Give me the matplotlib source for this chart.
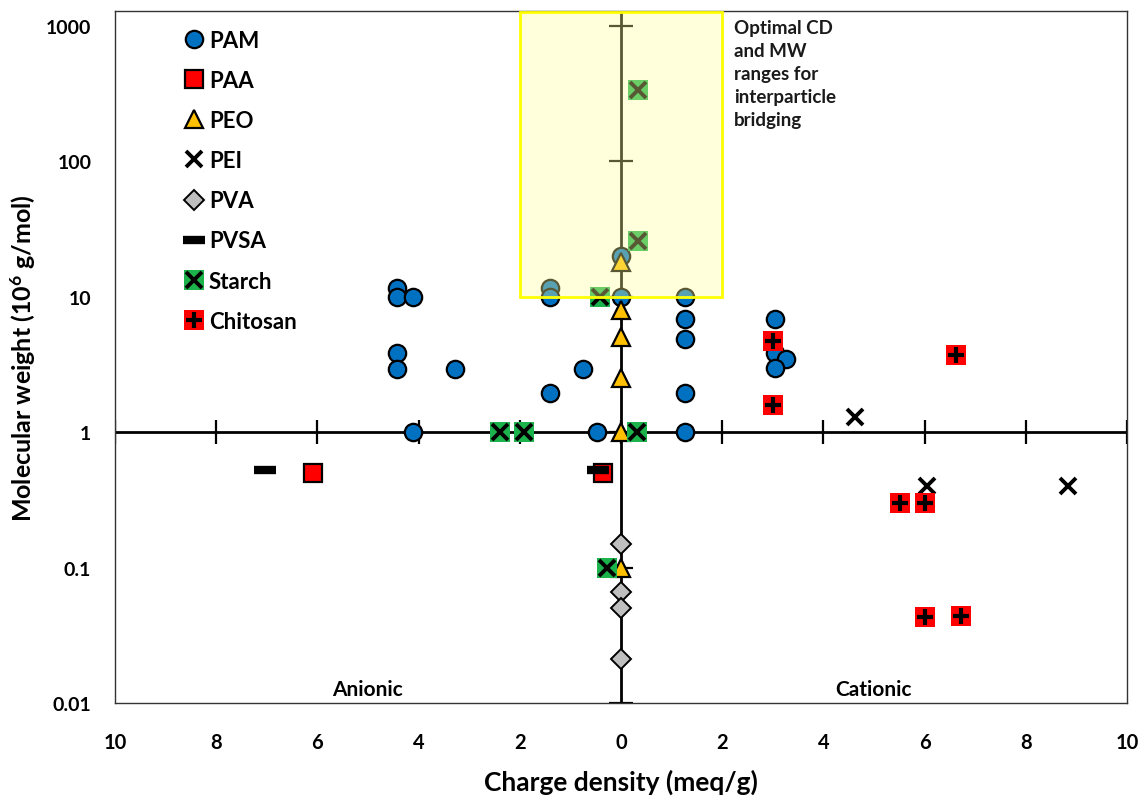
import numpy as np
import matplotlib
matplotlib.use('Agg')
import matplotlib.pyplot as plt
from matplotlib.patches import Rectangle
from matplotlib.ticker import FuncFormatter

plt.rcParams['font.family'] = ['Lato', 'DejaVu Sans']
plt.rcParams['font.weight'] = 'bold'
plt.rcParams['mathtext.fontset'] = 'custom'
plt.rcParams['mathtext.bf'] = 'Lato:bold'
plt.rcParams['mathtext.rm'] = 'Lato:bold'
plt.rcParams['mathtext.default'] = 'bf'

# --- data: charge density (anionic < 0, cationic > 0), MW in 10^6 g/mol ---
pam_cd = [-4.43, -4.43, -4.11, -4.43, -4.43, -3.28, -4.11, -1.40, -1.40, -1.40, -0.75, -0.47,
          0, 0, 1.26, 1.26, 1.26, 1.26, 1.26, 3.04, 3.04, 3.26, 3.04]
pam_mw = [11.5, 10, 10, 3.8, 2.9, 2.9, 1, 11.5, 10, 1.94, 2.9, 1,
          20, 10, 10, 6.8, 4.9, 1.94, 1, 6.8, 3.8, 3.45, 2.95]

paa_cd = [-6.09, -0.36]
paa_mw = [0.5, 0.5]

peo_cd = [0, 0, 0, 0, 0, 0]
peo_mw = [18, 8, 5, 2.5, 1, 0.1]

pei_cd = [4.62, 6.05, 8.83]
pei_mw = [1.3, 0.4, 0.4]

pva_cd = [0, 0, 0, 0]
pva_mw = [0.15, 0.066, 0.05, 0.021]

pvsa_cd = [-7.04, -0.45]
pvsa_mw = [0.52, 0.52]

starch_cd = [0.34, 0.34, -0.41, -2.39, -1.92, 0.32, -0.28]
starch_mw = [335, 25.5, 10, 1, 1, 1, 0.1]

chit_cd = [3.0, 3.0, 6.62, 5.51, 6.0, 6.0, 6.72]
chit_mw = [4.7, 1.58, 3.7, 0.3, 0.3, 0.043, 0.044]

x_ticks = [-10, -8, -6, -4, -2, 0, 2, 4, 6, 8, 10]
y_ticks = [0.01, 0.1, 1, 10, 100, 1000]

# optimal bridging window
opt_cd = (-2, 2)
opt_mw_low = 10

XMIN, XMAX = -10, 10
YMIN, YMAX = 0.01, 1280

fig = plt.figure(figsize=(11.46, 8.03), dpi=100)
ax = fig.add_axes([0.1003, 0.1233, 0.8831, 0.8617])
ax.set_yscale('log')
ax.set_xlim(XMIN, XMAX)
ax.set_ylim(YMIN, YMAX)

for s in ax.spines.values():
    s.set_linewidth(1.0)
    s.set_color('#333333')

ax.set_xticks(x_ticks)
ax.set_yticks(y_ticks)
ax.minorticks_off()
ax.xaxis.set_major_formatter(FuncFormatter(lambda v, p: f"{abs(v):g}"))
ax.yaxis.set_major_formatter(FuncFormatter(lambda v, p: f"{v:g}"))
ax.tick_params(axis='x', length=0, pad=21, labelsize=14.5)
ax.tick_params(axis='y', length=0, pad=17, labelsize=14)

# central axes crossing at CD=0, MW=1
ax.axhline(1, color='black', lw=2, zorder=1)
ax.axvline(0, color='black', lw=2, zorder=1)
ax.plot(x_ticks, [1] * len(x_ticks), ls='none', marker='|', ms=17, mew=1.6, color='black', zorder=1)
ax.plot([0] * len(y_ticks), y_ticks, ls='none', marker='_', ms=17, mew=1.6, color='black', zorder=1)

edge = dict(markeredgecolor='black', markeredgewidth=1.6)
h_pam, = ax.plot(pam_cd, pam_mw, 'o', ms=12.5, color='#0070C0', zorder=3, **edge)
h_paa, = ax.plot(paa_cd, paa_mw, 's', ms=12.5, color='#FF0000', zorder=3, **edge)
h_peo, = ax.plot(peo_cd, peo_mw, '^', ms=13, color='#FFC000', zorder=3, **edge)
h_pei, = ax.plot(pei_cd, pei_mw, 'x', ms=11, mew=2.8, color='black', zorder=3)
h_pva, = ax.plot(pva_cd, pva_mw, 'D', ms=10, color='#BFBFBF', zorder=3, markeredgecolor='black', markeredgewidth=1.4)
h_pvsa, = ax.plot(pvsa_cd, pvsa_mw, '_', ms=16, mew=6, color='black', zorder=3)
h_st1, = ax.plot(starch_cd, starch_mw, 's', ms=14, color='#1DB34C', markeredgewidth=0, zorder=3)
h_st2, = ax.plot(starch_cd, starch_mw, 'x', ms=11, mew=2.8, color='black', zorder=3)
h_ch1, = ax.plot(chit_cd, chit_mw, 's', ms=14, color='#FF0000', markeredgewidth=0, zorder=3)
h_ch2, = ax.plot(chit_cd, chit_mw, '+', ms=12, mew=3, color='black', zorder=3)

# highlighted window, drawn over points
ax.add_patch(Rectangle((opt_cd[0], opt_mw_low), opt_cd[1] - opt_cd[0], YMAX * 0.99 - opt_mw_low,
                       facecolor='#FFFF99', alpha=0.35, edgecolor='none', zorder=4))
ax.add_patch(Rectangle((opt_cd[0], opt_mw_low), opt_cd[1] - opt_cd[0], YMAX * 0.99 - opt_mw_low,
                       facecolor='none', edgecolor='#FFFF00', lw=2, zorder=4))

ax.text(0.612, 0.988, "Optimal CD\nand MW\nranges for\ninterparticle\nbridging", transform=ax.transAxes,
        fontsize=13.5, fontweight='bold', va='top', ha='left', linespacing=1.42, color='#1a1a1a', zorder=5)
ax.text(-5, 0.0127, "Anionic", fontsize=15, fontweight='bold', ha='center', va='center')
ax.text(5, 0.0127, "Cationic", fontsize=15, fontweight='bold', ha='center', va='center')

leg = ax.legend([h_pam, h_paa, h_peo, h_pei, h_pva, h_pvsa, (h_st1, h_st2), (h_ch1, h_ch2)],
                ['PAM', 'PAA', 'PEO', 'PEI', 'PVA', 'PVSA', 'Starch', 'Chitosan'],
                loc='upper left', bbox_to_anchor=(0.05, 1.0), frameon=False, fontsize=16,
                handlelength=0.9, handletextpad=0.2, labelspacing=0.86, borderaxespad=0.45)
leg.set_zorder(6)

ax.set_xlabel("Charge density (meq/g)", fontsize=19, fontweight='bold', labelpad=12)
ax.set_ylabel("Molecular weight (10$^{6}$ g/mol)", fontsize=18, fontweight='bold', labelpad=6)

fig.savefig('out.png', dpi=100)
